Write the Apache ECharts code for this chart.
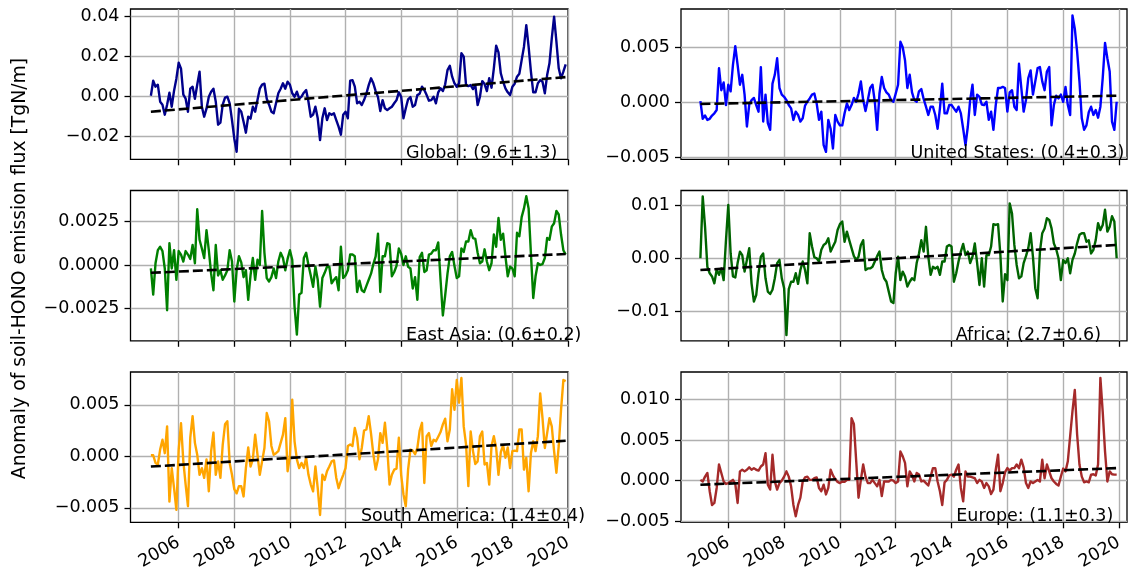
<!DOCTYPE html>
<html>
<head>
<meta charset="utf-8">
<script src="https://cdn.jsdelivr.net/npm/echarts@6.0.0/dist/echarts.min.js"></script>
<style>
  html, body { margin: 0; padding: 0; background: #fff; }
  #chart { width: 1129px; height: 578px; }
</style>
</head>
<body>
<div id="chart"></div>
<script>
// Monthly anomalies of soil-HONO emission flux, Jan 2005 - Dec 2019.
// Values are in units of 1e-3 TgN/m.
const startYear = 2005;
const UNIT = 1e-3;

const globalAnom = [
  0.5, 8, 5, 6, -2.5, -4, -9, -4, 2, -5,
  3, 9, 17, 14, 1, -1, -7.5, 4, 5, -1,
  6, 12.5, -5, -10, -6, 0, 2.5, 4, -2.5, -14,
  -13, -4, -0.5, 0, -3.3, -11.7, -21, -27.5, -6, -7.5,
  -12.5, -18, -10, -11, -5, -7.5, -1.7, 4, 6, 6.5,
  -1, -4, -7.5, -8.3, -3.3, 1.7, 4, 6.7, 4, 7.5,
  6, 1.7, 0, 2.5, -1, 0, 2, 3.3, -2.5, -10,
  -9, -5, -10.8, -21.7, -10.8, -5.8, -11.7, -8.3, -9, -8.3,
  -11.7, -15, -19, -9, -7.5, -10.8, 8, 8.3, 5, -3.3,
  -2.5, -4.2, -1.7, 1.5, 5.8, 9.2, 6.7, 2.8, -0.2, -7.2,
  -1.7, -5.8, -6.7, -5.8, -5, -3.3, -1.7, 2.2, 0, -10.8,
  -5.8, -1.3, -0.2, -5, -4.2, 0.8, 1.5, 5, 3.3, 0.8,
  -2, -1.7, 0, -3.3, 2.2, 4.2, 2.8, 6.2, 13.3, 15.5,
  10, 6.7, 5, 6.7, 21.7, 20, 5.8, 5.3, 5.8, 3.8,
  5.8, -4.2, 0, 7.8, 6.3, 2.8, 9.2, 4.5, 14.2, 25.5,
  22.2, 11.7, 7.5, 4.2, 2.2, 0.8, 5, 6.5, 10, 11.5,
  18.3, 25, 35.8, 25, 12.5, 2.2, 2.2, 6.7, 8.3, 7.5,
  1.7, 10.8, 16.7, 29.2, 40, 27.5, 14.2, 9.2, 12.5, 16.2
];

const usAnom = [
  0.1, -1.5, -1.2, -1.6, -1.5, -1.2, -1.0, -0.7, 3.1, 1.1,
  1.8, -0.25, 1.6, 1.0, 3.4, 5.1, 3.4, 1.6, 2.5, 0.7,
  -2.2, -0.2, 0.2, 0.4, -0.25, -0.85, 3.2, -1.75, 0.7, -1.9,
  -2.5, 1.7, 2.5, 4.0, 1.3, 0.7, 0.5, 0.2, -0.25, -0.55,
  -1.6, -0.85, -1.15, -1.75, -1.45, -0.3, 0.05, 0.35, 0.7, 0.8,
  -0.1, -1.6, -0.85, -3.9, -4.5, -1.6, -2.4, -4.2, -1.15, -1.75,
  -2.1, -2.1, -1.0, -0.1, -0.7, -0.25, 0.4, 0.05, 0.8, 1.9,
  0.2, -0.8, 0.2, 1.3, 1.6, 0.05, -2.5, 0.8, 2.3, 1.3,
  0.9, 0.7, 0.2, 0.05, 0.8, 1.6, 5.5, 5.0, 3.8, 1.3,
  2.5, 0.9, 0.2, 0.05, 1.0, 1.2, 0.3, -0.4, -1.15, -0.4,
  -0.4, -1.15, -2.4, -0.55, 1.7, -1.0, -1.0, -0.25, -0.25, -0.55,
  -0.85, -0.4, -1.0, -2.4, -3.9, -2.2, 0.2, 1.6, -1.15, 0.7,
  0.5, -0.2, -0.25, 0.05, -1.6, -0.85, -2.5, -0.25, 1.3, 1.3,
  1.4, 1.3, -0.85, 0.9, 1.1, -0.4, -0.7, 3.5, 1.3, -0.85,
  0.2, 2.2, 2.9, 0.7, 1.9, 3.1, 3.2, 1.9, 1.1, 2.8,
  3.2, -2.1, -0.25, 0.6, 0.35, 0.7, 0.05, 1.4, -0.25, -1.15,
  7.9, 6.7, 4.6, 1.9, -1.45, -2.5, -2.1, -0.9, -0.4, -1.15,
  -0.7, -1.4, -0.4, 2.2, 5.4, 4.0, 2.8, -1.75, -2.5, 0.05
];

const eastAsiaAnom = [
  -0.2, -1.7, 0.1, 0.85, 1.05, 0.8, -0.2, -2.6, 1.25, -0.2,
  0.85, -0.85, 0.8, 0.6, 0.2, 0.8, 0.6, 0.35, 1.15, 0.1,
  3.2, 1.45, 0.95, 0.4, 2.0, 0.85, -0.5, -1.45, 1.15, -0.6,
  -0.3, -0.85, -0.6, -0.3, 0.85, 0.2, -2.1, -0.3, 0.5, 0.15,
  -0.7, -0.3, -2.0, -0.6, 0.4, -0.85, 0.3, 0, 3.1, 0.7,
  -0.75, -0.95, -0.7, -0.2, -0.75, 0.2, 0.7, 0.4, -0.3, 0.35,
  0.85, 0.3, -2.4, -4.0, -1.7, -1.6, 0.4, 0.7, 0, -0.6,
  -1.25, -0.1, -0.85, -2.4, -0.75, -0.45, -0.1, -0.1, -1.05, -0.85,
  -0.7, -1.45, 1.05, -0.75, -0.6, -0.3, 0.6, 0.6, 0.5, -1.55,
  -0.9, -1.45, -1.55, -1.2, -0.85, -0.5, 0.05, 0.5, 1.8, -1.55,
  0.5, 0.5, 1.25, 1.2, -0.65, -0.4, -0.05, 0.95, 0.65, 0,
  0.5, -0.1, -0.2, -1.35, -0.7, -2.0, 0.45, 0.7, -0.4, -0.3,
  0.6, 0.65, 0.85, 0.85, 1.3, -0.85, -2.9, -1.75, -0.5, 0.5,
  0.75, -0.05, -0.75, -0.65, 0.95, 0.75, 1.35, 1.35, 2.0, 1.55,
  1.5, 0.7, 0.1, 0.2, 0.9, 0.2, -0.3, 0.1, 1.75, 1.05,
  2.7, 1.45, 1.8, 0.5, -0.65, -0.1, -0.2, -0.65, 1.85, 1.65,
  2.75, 3.25, 3.95, 3.25, 0.65, -1.9, -0.65, 0.1, 0, 0.05,
  0.4, 1.55, 1.45, 2.2, 2.4, 3.1, 2.9, 1.75, 0.85, 0.6
];

const africaAnom = [
  0, 11.6, 5.9, -1.6, -2.8, -3.4, -4.7, -2.1, -3.1, -1.9,
  -4.1, 3.4, 10, 0.9, -3.4, -3.6, -0.9, 1.25, 0.6, -2.5,
  -0.3, 1.9, -4.7, -8.1, -6.9, -2.8, 0.3, 0.9, -3.75, -6.25,
  -6.7, -5.9, -3.75, -0.9, -0.3, -3.75, -5.6, -14.4, -5.8, -4.4,
  -4.4, -2.8, -4.8, -2.2, -0.6, -2.2, -4.7, 4.7, 2.2, 0.2,
  0, -0.6, 1.6, 2.5, 2.8, 3.75, 1.25, 2.2, 3.1, 5.3,
  6.4, 6.9, 3.1, 5.0, 3.4, 1.9, 0.4, -0.3, 0.3, 2.5,
  3.4, -2.2, -1.9, -1.9, -1.6, -0.6, 0.4, 1.25, -2.2, -3.75,
  -4.4, -6.25, -8.1, -8.4, -2.8, 0.3, -4.1, -2.5, -3.4, -5.3,
  -4.4, -3.75, -4.1, -0.9, 0.9, 3.4, 1.25, 5.9, 0.3, -3.1,
  -1.6, -1.9, -1.6, -3.1, -0.6, -0.6, 2.2, 2.5, 2.2, -4.4,
  -2.8, -0.6, 1.25, 2.7, 0.6, 1.25, -0.9, 0.3, 2.8, -0.9,
  -5, 0, -5.3, 0.6, 0.6, 2.2, 6.4, 6.25, 6.4, 0.6,
  -8.1, -3, -4.1, 10.3, 8.4, 2.5, -1.25, -3.75, -3.4, -0.9,
  0.4, 1.9, 4.7, 0.3, -5.6, -7.5, 1.25, 4.7, 5.6, 7.5,
  7.2, 5.6, 2.8, 1.7, 0, -4.1, -0.3, -0.9, 0, -2.8,
  -0.3, 0.9, 2.8, 4.4, 4.7, 4.7, 3.1, 3.4, 0.9, 1.6,
  3.4, 6.6, 5.3, 6.25, 9.1, 5.0, 5.9, 7.9, 6.9, 0
];

const southAmericaAnom = [
  0.1, 0.1, -0.65, -0.8, 0.65, 1.6, 0.3, 2.9, -4.4, -1.15,
  -3.1, -5.2, 0.65, 3.2, -0.5, -2.75, -4.85, 1.8, 3.9, 1.3,
  0.15, -1.8, -1.15, -2.1, -0.3, -3.4, 0.5, 2.3, -1.8, -0.5,
  -2.1, 1.1, 3.1, 3.4, -0.65, -1.8, -3.2, -3.6, -2.9, -2.9,
  -3.9, -1.15, 0.85, -1.0, -0.3, 2.1, 0.15, -1.8, -0.5, 0.8,
  4.2, 3.4, 1.0, 0.15, 0.3, 0.5, 1.3, 2.1, 3.7, -1.45,
  0, 5.5, 1.45, -0.3, -1.15, -0.65, -1.15, -0.15, -1.8, -2.75,
  -3.4, -1.0, -3.1, -5.7, -1.8, -2.3, -1.45, -1.0, -0.5, -0.4,
  -2.1, -3.1, -2.4, -1.8, -1.15, 1.0, 1.15, 1.0, 2.75, 1.8,
  -0.3, 0.8, 2.5, 2.6, 3.9, 2.2, 0.2, -1.3, -0.3, 2.25,
  1.3, 3.25, 0.8, -2.75, -1.8, -1.3, -1.2, 1.8, -1.8, -3.7,
  -4.85, -1.3, 0.65, 0.55, 0.2, 0.8, 2.5, 3.25, -2.6, 1.95,
  2.25, 1.0, 1.6, 1.45, 1.9, 2.35, 3.1, 3.65, 1.45, 2.6,
  6.5, 4.5, 7.4, 5.2, 7.6, 2.9, 1.15, -2.9, 2.4, 0.5,
  -0.75, -0.5, 1.95, 2.4, -0.8, -0.65, -2.75, 1.0, 1.95, 0.8,
  -1.8, 0.4, 1.05, -0.15, 0.85, -1.15, 0.5, 0.55, 0.5, 2.6,
  2.6, -1.3, -0.15, -3.4, 0.3, 1.45, 0.5, 1.95, 6.1, 3.7,
  0.8, 2.25, 3.7, 2.9, 0.5, -1.6, 1.0, 4.5, 7.4, 7.3
];

const europeAnom = [
  0.1, -0.1, 0.5, 0.95, -1.3, -3.0, -2.75, -0.9, 2.0, 0.95,
  -0.1, -0.4, -0.3, -0.1, 0.1, -0.4, -2.75, 1.15, 1.35, 1.15,
  1.35, 1.65, 1.35, 1.55, 1.35, 1.25, 1.75, 2.0, 3.4, -0.5,
  -1.1, 3.2, -0.1, -1.1, -0.3, 0, 0.5, 1.15, 0.5, -0.7,
  -3.0, -4.4, -3.0, -2.1, -0.1, 0.4, 0.5, 0.1, 0.1, 0.3,
  0.4, -0.9, -1.3, -0.5, -1.7, -0.9, 1.35, 0.65, 0.2, -0.15,
  -0.3, -0.1, -0.15, 0.1, 0.1, 7.7, 7.0, 2.4, -2.1, 0.1,
  2.0, 0.5, -0.3, -0.3, 0.1, -0.3, -0.7, 0.1, -1.9, -0.1,
  -0.1, -0.1, 0.1, 0, -0.3, -0.1, 3.6, 3.0, 2.2, -0.7,
  1.15, 0.65, -0.1, 0.95, 0.75, -0.1, 0, -0.3, -0.6, 0.5,
  1.55, 1.55, -0.1, -1.3, -3.0, -0.2, 0.1, 0.65, 0.75, 0.5,
  1.35, 2.0, -0.9, -2.55, 1.15, 0.5, 0.5, 0.4, 0.3, -0.3,
  0.1, -0.1, -0.9, -0.3, -0.7, -1.65, -1.1, 1.35, 3.2, -1.3,
  -0.3, 1.05, 1.55, 1.25, 1.55, 1.55, 2.0, 1.55, 2.6, 1.65,
  -0.3, -0.9, -0.1, -0.3, -0.1, 0.1, -0.1, 2.6, 0.3, 2.0,
  1.15, 0.3, -0.1, -0.4, -0.6, 0.5, 1.5, 1.15, 2.4, 5.5,
  8.6, 11.2, 5.7, 2.0, 0.5, -0.2, -0.1, -0.2, 0.75, 0.8,
  0.65, 2.0, 12.7, 8.5, 3.6, -0.1, 1.15, 0.8, 0.75, 0.75
];

// Linear trend lines: value at the first and at the last month (1e-3 TgN/m)
const globalTrend = [-7.5, 9.8];
const usTrend = [-0.15, 0.6];
const eastAsiaTrend = [-0.45, 0.63];
const africaTrend = [-2.2, 2.5];
const southAmericaTrend = [-1.0, 1.5];
const europeTrend = [-0.5, 1.55];

const regionLabels = [
  'Global: (9.6±1.3)',
  'United States: (0.4±0.3)',
  'East Asia: (0.6±0.2)',
  'Africa: (2.7±0.6)',
  'South America: (1.4±0.4)',
  'Europe: (1.1±0.3)'
];

// Tick values and tick label texts
const xTicks = [2006, 2008, 2010, 2012, 2014, 2016, 2018, 2020];
const xTickLabels = ['2006', '2008', '2010', '2012', '2014', '2016', '2018', '2020'];
const yTicksGlobal = [-0.02, 0, 0.02, 0.04];
const yLabelsGlobal = ['\u22120.02', '0.00', '0.02', '0.04'];
const yTicksUS = [-0.005, 0, 0.005];
const yLabelsUS = ['\u22120.005', '0.000', '0.005'];
const yTicksEastAsia = [-0.0025, 0, 0.0025];
const yLabelsEastAsia = ['\u22120.0025', '0.0000', '0.0025'];
const yTicksAfrica = [-0.01, 0, 0.01];
const yLabelsAfrica = ['\u22120.01', '0.00', '0.01'];
const yTicksSouthAmerica = [-0.005, 0, 0.005];
const yLabelsSouthAmerica = ['\u22120.005', '0.000', '0.005'];
const yTicksEurope = [-0.005, 0, 0.005, 0.01];
const yLabelsEurope = ['\u22120.005', '0.000', '0.005', '0.010'];

const yAxisTitle = 'Anomaly of soil-HONO emission flux [TgN/m]';

// ---- panel wiring ----
const panels = [
  { values: globalAnom, trend: globalTrend, color: '#00008b', yTicks: yTicksGlobal, yLabels: yLabelsGlobal, text: regionLabels[0] },
  { values: usAnom, trend: usTrend, color: '#0000ff', yTicks: yTicksUS, yLabels: yLabelsUS, text: regionLabels[1] },
  { values: eastAsiaAnom, trend: eastAsiaTrend, color: '#008000', yTicks: yTicksEastAsia, yLabels: yLabelsEastAsia, text: regionLabels[2] },
  { values: africaAnom, trend: africaTrend, color: '#006400', yTicks: yTicksAfrica, yLabels: yLabelsAfrica, text: regionLabels[3] },
  { values: southAmericaAnom, trend: southAmericaTrend, color: '#ffa500', yTicks: yTicksSouthAmerica, yLabels: yLabelsSouthAmerica, text: regionLabels[4] },
  { values: europeAnom, trend: europeTrend, color: '#a52a2a', yTicks: yTicksEurope, yLabels: yLabelsEurope, text: regionLabels[5] }
];

// Geometry of each panel (pixels) and its axis limits
const ROW_TOPS = [9, 190.5, 372];
const ROW_H = 150.3;
const COLS = [
  { left: 130.5, width: 437.5, xMin: 2004.267, xMax: 2020.0 },
  { left: 681, width: 446, xMin: 2004.305, xMax: 2020.287 }
];
const Y_LIMITS = [
  [-0.0313, 0.04385],
  [-0.00518, 0.00848],
  [-0.004356, 0.00428],
  [-0.01547, 0.01271],
  [-0.00641, 0.00818],
  [-0.00514, 0.01342]
];
const TEXT_POS = [[406, 153.4], [910.5, 153.4], [406, 335], [955.7, 335], [361, 516.5], [956.3, 516.5]];

const FONT = 'DejaVu Sans';
const FS = 17.5;
const INK = '#000';

const grids = [], xAxes = [], yAxes = [], series = [], graphics = [];

function labelFor(ticks, labels) {
  return function (v) {
    let best = 0;
    for (let k = 1; k < ticks.length; k++) {
      if (Math.abs(ticks[k] - v) < Math.abs(ticks[best] - v)) best = k;
    }
    return labels[best];
  };
}

panels.forEach((p, k) => {
  const row = Math.floor(k / 2), col = k % 2;
  const c = COLS[col];
  grids.push({
    left: c.left, top: ROW_TOPS[row], width: c.width, height: ROW_H,
    show: true, borderColor: INK, borderWidth: 1.3, backgroundColor: 'transparent'
  });
  xAxes.push({
    type: 'value', gridIndex: k, min: c.xMin, max: c.xMax,
    axisLine: { show: false, onZero: false },
    axisTick: { show: true, inside: false, length: 6, customValues: xTicks, lineStyle: { color: INK, width: 1.3 } },
    axisLabel: {
      show: row === 2, customValues: xTicks, rotate: 30, margin: 19,
      formatter: labelFor(xTicks, xTickLabels),
      color: INK, fontFamily: FONT, fontSize: FS
    },
    splitLine: { show: true, lineStyle: { color: '#b0b0b0', width: 1.4 } }
  });
  yAxes.push({
    type: 'value', gridIndex: k, min: Y_LIMITS[k][0], max: Y_LIMITS[k][1],
    axisLine: { show: false, onZero: false },
    axisTick: { show: true, inside: false, length: 6, customValues: p.yTicks, lineStyle: { color: INK, width: 1.3 } },
    axisLabel: {
      show: true, customValues: p.yTicks, margin: 11,
      formatter: labelFor(p.yTicks, p.yLabels),
      color: INK, fontFamily: FONT, fontSize: FS
    },
    splitLine: { show: true, lineStyle: { color: '#b0b0b0', width: 1.4 } }
  });
  const n = p.values.length;
  series.push({
    type: 'line', xAxisIndex: k, yAxisIndex: k,
    data: p.values.map((v, i) => [startYear + i / 12, v * UNIT]),
    showSymbol: false, symbol: 'none', smooth: false, clip: true,
    lineStyle: { color: p.color, width: 2.4, join: 'round' },
    z: 2
  });
  series.push({
    type: 'line', xAxisIndex: k, yAxisIndex: k,
    data: [[startYear, p.trend[0] * UNIT], [startYear + (n - 1) / 12, p.trend[1] * UNIT]],
    showSymbol: false, symbol: 'none', clip: true,
    lineStyle: { color: INK, width: 2.6, type: [10, 4] },
    z: 3
  });
  graphics.push({
    type: 'text', x: TEXT_POS[k][0], y: TEXT_POS[k][1], z: 100,
    style: { text: p.text, fill: INK, fontFamily: FONT, fontSize: FS, align: 'left', verticalAlign: 'middle' }
  });
});

graphics.push({
  type: 'text', x: 20, y: 268.5, rotation: Math.PI / 2, z: 100,
  style: { text: yAxisTitle, fill: INK, fontFamily: FONT, fontSize: 18.8, align: 'center', verticalAlign: 'middle' }
});

const chart = echarts.init(document.getElementById('chart'), null, { renderer: 'canvas', width: 1129, height: 578 });
chart.setOption({
  animation: false,
  backgroundColor: '#fff',
  grid: grids,
  xAxis: xAxes,
  yAxis: yAxes,
  series: series,
  graphic: { elements: graphics }
});
</script>
</body>
</html>
